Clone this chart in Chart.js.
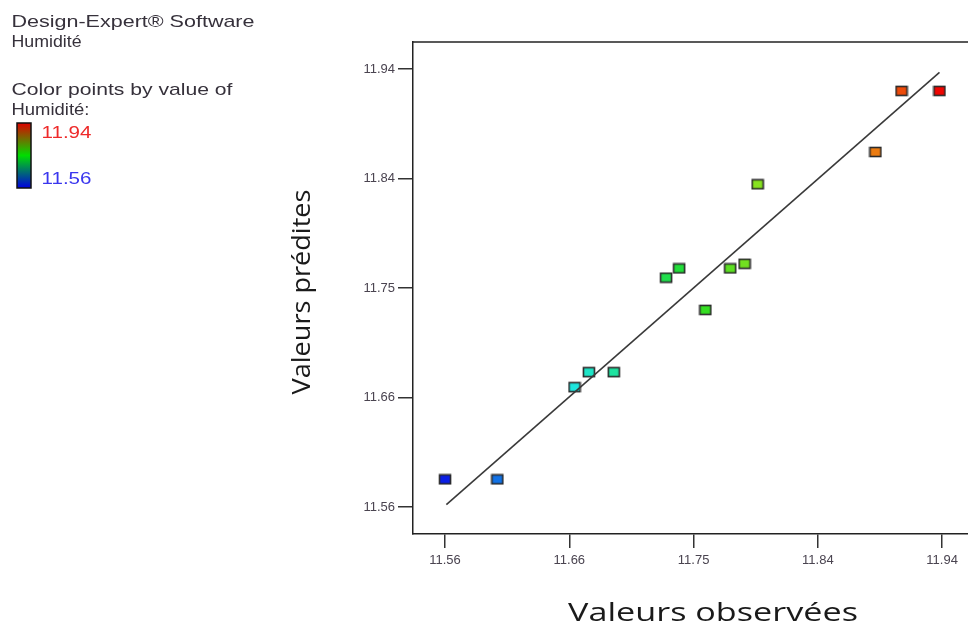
<!DOCTYPE html>
<html><head><meta charset="utf-8">
<script src="https://cdn.jsdelivr.net/npm/chart.js@4/dist/chart.umd.min.js"></script>
<style>html,body{margin:0;padding:0;background:#fff;overflow:hidden}canvas{display:block}</style>
</head><body>
<canvas id="c" width="968" height="629"></canvas>
<script>
// ---- data ----
const observed  = [11.560, 11.600, 11.659, 11.670, 11.689, 11.729, 11.739, 11.759, 11.778, 11.789, 11.799, 11.889, 11.909, 11.938];
const predicted = [11.584, 11.584, 11.664, 11.677, 11.677, 11.759, 11.767, 11.731, 11.767, 11.771, 11.840, 11.868, 11.921, 11.921];
const fitX = [11.561, 11.938];
const fitY = [11.562, 11.937];
const xTickValues = [11.56, 11.655, 11.75, 11.845, 11.94];
const xTickLabels = ['11.56', '11.66', '11.75', '11.84', '11.94'];
const yTickValues = [11.56, 11.655, 11.75, 11.845, 11.94];
const yTickLabels = ['11.56', '11.66', '11.75', '11.84', '11.94'];
const colorRange = [11.56, 11.94];
const headerLines = ['Design-Expert® Software', 'Humidité'];
const legendLines = ['Color points by value of', 'Humidité:'];
const legendLabels = ['11.94', '11.56'];
const xTitle = 'Valeurs observées';
const yTitle = 'Valeurs prédites';

// ---- styling ----
const stops = [[0,[10,30,230]],[0.25,[30,230,230]],[0.5,[34,221,34]],[0.75,[230,230,30]],[1,[240,0,0]]];
function colorFor(v){
  let t = (v - colorRange[0]) / (colorRange[1] - colorRange[0]);
  t = Math.max(0, Math.min(1, t));
  for (let i = 1; i < stops.length; i++) {
    if (t <= stops[i][0]) {
      const a = stops[i-1], b = stops[i];
      const f = (t - a[0]) / (b[0] - a[0]);
      const c = a[1].map((x, k) => Math.round(x + (b[1][k] - x) * f));
      return `rgb(${c[0]},${c[1]},${c[2]})`;
    }
  }
  return 'rgb(240,0,0)';
}
function marker(color){
  const c = document.createElement('canvas');
  c.width = 14; c.height = 12;
  const g = c.getContext('2d');
  g.fillStyle = color;
  g.fillRect(1.5, 1.5, 11, 9);
  g.strokeStyle = '#2b2b2b';
  g.lineWidth = 1.6;
  g.strokeRect(1.5, 1.5, 11, 9);
  return c;
}

const points = observed.map((x, i) => ({x: x, y: predicted[i]}));
const linePts = fitX.map((x, i) => ({x: x, y: fitY[i]}));
const markers = observed.map(v => marker(colorFor(v)));

function fitText(ctx, text, x, y, width, font, color, align){
  ctx.save();
  ctx.font = font;
  ctx.fillStyle = color;
  ctx.textBaseline = 'alphabetic';
  const m = ctx.measureText(text).width;
  const s = width / m;
  ctx.translate(x, y);
  ctx.scale(s, 1);
  ctx.textAlign = align || 'left';
  ctx.fillText(text, 0, 0);
  ctx.restore();
}

const decor = {
  id: 'decor',
  afterDraw(chart){
    const ctx = chart.ctx;
    const a = chart.chartArea;
    ctx.save();
    // top frame line
    ctx.strokeStyle = '#222';
    ctx.lineWidth = 1.5;
    ctx.beginPath();
    ctx.moveTo(a.left, a.top);
    ctx.lineTo(chart.width + 2, a.top);
    ctx.stroke();

    const lf = '17px "Liberation Sans", Arial, sans-serif';
    const tc = '#36313b';
    fitText(ctx, headerLines[0], 11.5, 27, 243, lf, tc);
    fitText(ctx, headerLines[1], 11.5, 46.5, 70, lf, tc);
    fitText(ctx, legendLines[0], 11.5, 94.5, 221, lf, tc);
    fitText(ctx, legendLines[1], 11.5, 114.5, 78, lf, tc);
    fitText(ctx, legendLabels[0], 41.5, 137.5, 50, lf, '#ee2a2a');
    fitText(ctx, legendLabels[1], 41.5, 183.5, 50, lf, '#3a36ee');

    // colour bar
    const g = ctx.createLinearGradient(0, 123, 0, 188);
    g.addColorStop(0, '#e00000');
    g.addColorStop(0.5, '#00dd00');
    g.addColorStop(1, '#0000e0');
    ctx.fillStyle = g;
    ctx.fillRect(17, 123, 14, 65);
    ctx.strokeStyle = '#111';
    ctx.lineWidth = 1.5;
    ctx.strokeRect(17, 123, 14, 65);

    // axis titles
    const tf = '26px "Open Sans", sans-serif';
    fitText(ctx, xTitle, 713, 621, 290, tf, '#1a1a1a', 'center');
    ctx.save();
    ctx.translate(309.5, 292);
    ctx.rotate(-Math.PI / 2);
    fitText(ctx, yTitle, 0, 0, 205, tf, '#1a1a1a', 'center');
    ctx.restore();
    ctx.restore();
  }
};

const tickFont = {family: '"Liberation Sans", Arial, sans-serif', size: 13};
new Chart(document.getElementById('c'), {
  type: 'scatter',
  data: {
    datasets: [
      {
        type: 'line',
        data: linePts,
        borderColor: '#3a3a3a',
        borderWidth: 1.6,
        pointRadius: 0,
        fill: false
      },
      {
        data: points,
        pointStyle: ctx => markers[ctx.dataIndex],
        pointRadius: 7,
        pointHoverRadius: 7
      }
    ]
  },
  options: {
    responsive: false,
    animation: false,
    events: [],
    layout: {autoPadding: false, padding: {top: 42, left: 0, right: 0, bottom: 0}},
    plugins: {legend: {display: false}, tooltip: {enabled: false}, title: {display: false}},
    scales: {
      x: {
        type: 'linear',
        min: 11.5355,
        max: 11.9598,
        afterBuildTicks: s => { s.ticks = xTickValues.map(v => ({value: v})); },
        afterFit: s => { s.height = 95; s.paddingLeft = 0; s.paddingRight = 0; },
        grid: {drawOnChartArea: false, drawTicks: true, tickLength: 14, color: '#333', lineWidth: 1.5},
        border: {display: true, color: '#222', width: 1.5},
        ticks: {font: tickFont, color: '#4a4450', padding: 5, autoSkip: false, maxRotation: 0,
                callback: (v, i) => xTickLabels[i]}
      },
      y: {
        type: 'linear',
        min: 11.5366,
        max: 11.9634,
        afterBuildTicks: s => { s.ticks = yTickValues.map(v => ({value: v})); },
        afterFit: s => { s.width = 413; s.paddingTop = 0; s.paddingBottom = 0; },
        grid: {drawOnChartArea: false, drawTicks: true, tickLength: 15, color: '#333', lineWidth: 1.5},
        border: {display: true, color: '#222', width: 1.5},
        ticks: {font: tickFont, color: '#4a4450', padding: 3, autoSkip: false,
                callback: (v, i) => yTickLabels[i]}
      }
    }
  },
  plugins: [decor]
});
</script>
</body></html>
